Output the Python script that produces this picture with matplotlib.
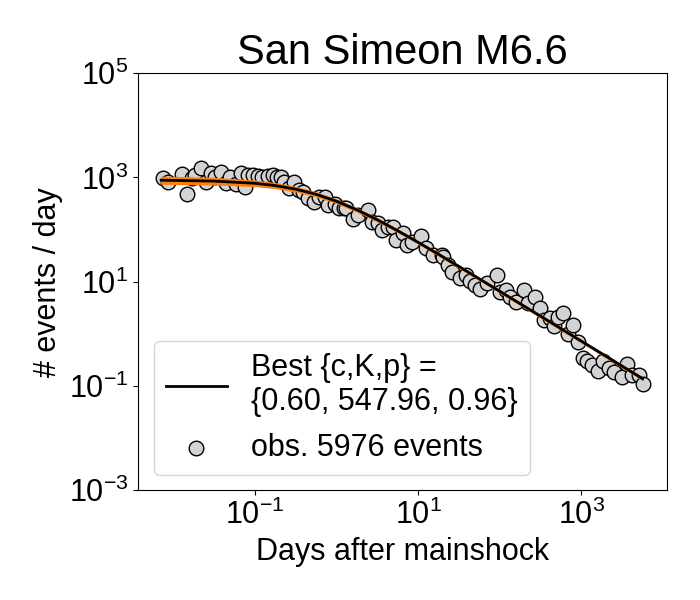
import numpy as np
import matplotlib
matplotlib.use('Agg')
import matplotlib.pyplot as plt

plt.rcParams['font.family'] = ['Liberation Sans', 'DejaVu Sans']
plt.rcParams['mathtext.default'] = 'regular'

log_days = [-2.13, -2.07, -1.89, -1.83, -1.77, -1.73, -1.66, -1.60, -1.54, -1.49,
            -1.42, -1.35, -1.31, -1.23, -1.17, -1.12, -1.08, -1.02, -0.96, -0.91,
            -0.84, -0.78, -0.73, -0.68, -0.65, -0.58, -0.52, -0.46, -0.41, -0.35,
            -0.28, -0.21, -0.14, -0.10, -0.02, 0.03, 0.09, 0.12, 0.20, 0.26,
            0.39, 0.43, 0.51, 0.56, 0.63, 0.69, 0.73, 0.81, 0.86, 0.93,
            1.04, 1.10, 1.18, 1.29, 1.30, 1.36, 1.42, 1.51, 1.59, 1.64,
            1.70, 1.76, 1.84, 1.96, 2.00, 2.07, 2.12, 2.20, 2.30, 2.34,
            2.43, 2.49, 2.54, 2.61, 2.67, 2.71, 2.78, 2.84, 2.90, 2.96,
            3.02, 3.07, 3.13, 3.20, 3.27, 3.34, 3.40, 3.50, 3.56, 3.62,
            3.70, 3.75]
log_rate = [2.98, 2.92, 3.06, 2.68, 2.98, 3.05, 3.19, 2.92, 3.09, 3.01,
            3.11, 2.90, 3.00, 2.87, 3.08, 2.81, 3.05, 3.05, 3.03, 3.01,
            3.03, 3.05, 3.01, 3.01, 2.92, 2.79, 2.92, 2.76, 2.73, 2.60,
            2.53, 2.63, 2.62, 2.47, 2.49, 2.41, 2.41, 2.41, 2.21, 2.28,
            2.37, 2.15, 2.13, 2.00, 2.04, 2.05, 1.80, 1.93, 1.70, 1.76,
            1.88, 1.64, 1.51, 1.51, 1.47, 1.32, 1.18, 1.07, 1.13, 1.01,
            0.93, 0.86, 0.97, 1.13, 0.80, 0.84, 0.70, 0.61, 0.84, 0.59,
            0.70, 0.49, 0.26, 0.30, 0.15, 0.32, 0.40, -0.01, 0.17, -0.16,
            -0.47, -0.52, -0.60, -0.72, -0.52, -0.66, -0.74, -0.83, -0.58, -0.79,
            -0.79, -0.97]

# best fit curve, same units
fit_days = [-2.15, -1.5, -1.0, -0.75, -0.5, -0.25, 0.0, 0.25, 0.5, 0.75,
            1.0, 1.25, 1.5, 2.0, 2.5, 3.0, 3.75]
fit_rate = [2.947, 2.93, 2.888, 2.844, 2.775, 2.677, 2.543, 2.378, 2.187, 1.977,
            1.755, 1.525, 1.291, 0.816, 0.338, -0.141, -0.861]
# half width of the orange band under the black curve
band_halfwidth = [0.065, 0.06, 0.05, 0.045, 0.04, 0.035, 0.03, 0.028, 0.025, 0.022,
                  0.02, 0.02, 0.02, 0.02, 0.02, 0.02, 0.02]

t = 10 ** np.array(log_days)
r = 10 ** np.array(log_rate)
ft = 10 ** np.array(fit_days)
fr = np.array(fit_rate)
hw = np.array(band_halfwidth)

fig = plt.figure(figsize=(7, 6), dpi=100)
ax = fig.add_axes([0.1975, 0.183, 0.7555, 0.695])

pts = ax.scatter(t, r, s=110, c='lightgray', edgecolors='k', linewidths=1,
                 zorder=2, label='obs. 5976 events')
ax.fill_between(ft, 10 ** (fr - hw), 10 ** (fr + hw), color='#ff7f0e', lw=1, zorder=3)
line, = ax.plot(ft, 10 ** fr, 'k', lw=2, zorder=4,
                label='Best {c,K,p} =\n{0.60, 547.96, 0.96}')

ax.set_xscale('log')
ax.set_yscale('log')
ax.set_xlim(10 ** -2.43, 10 ** 4.05)
ax.set_ylim(1e-3, 1e5)
ax.set_xticks([1e-1, 1e1, 1e3])
ax.set_yticks([1e-3, 1e-1, 1e1, 1e3, 1e5])
ax.minorticks_off()
ax.tick_params(labelsize=22)

ax.set_xlabel('Days after mainshock', fontsize=22)
ax.set_ylabel('# events / day', fontsize=22)
ax.set_title('San Simeon M6.6', fontsize=30)
ax.legend(handles=[line, pts], loc='lower left', fontsize=22)

fig.savefig('out.png', dpi=100)
